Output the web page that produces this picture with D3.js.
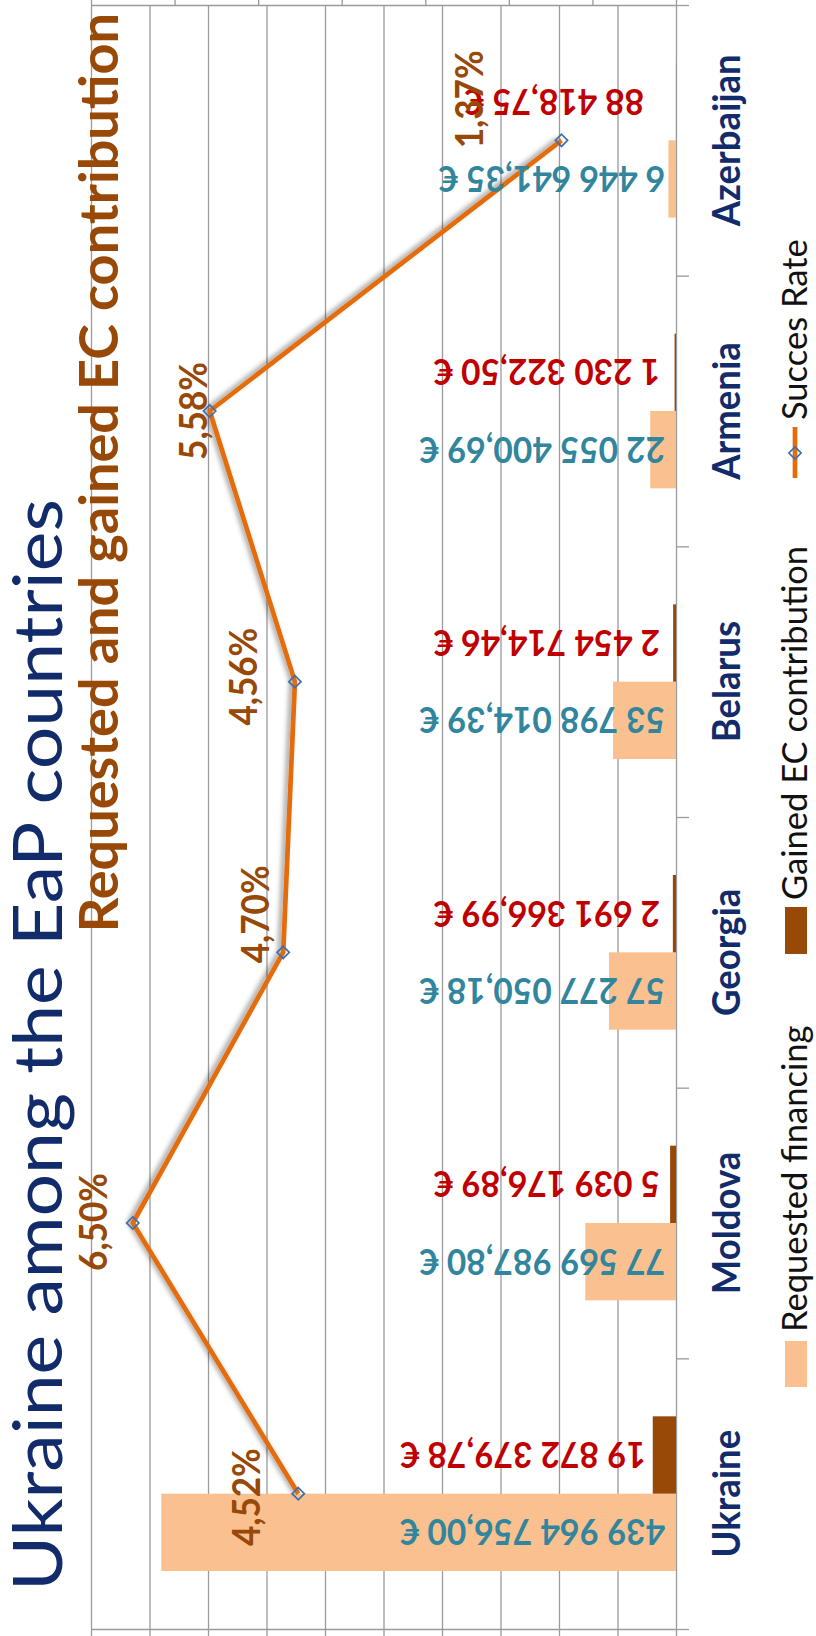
<!DOCTYPE html>
<html><head><meta charset="utf-8">
<script src="https://cdn.jsdelivr.net/npm/d3@7"></script>
<style>html,body{margin:0;padding:0;background:#fff;} svg{display:block}</style>
</head><body>
<svg id="chart" width="816" height="1636"></svg>
<script>
// ---------------- data ----------------
const categories = ["Ukraine", "Moldova", "Georgia", "Belarus", "Armenia", "Azerbaijan"];
const requestedFinancing = [439964756.00, 77569987.80, 57277050.18, 53798014.39, 22055400.69, 6446641.35];
const gainedContribution = [19872379.78, 5039176.89, 2691366.99, 2454714.46, 1230322.50, 88418.75];
const successRate = [0.0452, 0.0650, 0.0470, 0.0456, 0.0558, 0.0137];
const valueAxisTicks = [0, 50e6, 100e6, 150e6, 200e6, 250e6, 300e6, 350e6, 400e6, 450e6, 500e6];
const rateAxisTicks = [0, 0.01, 0.02, 0.03, 0.04, 0.05, 0.06, 0.07];
const seriesNames = ["Requested financing", "Gained EC contribution", "Succes Rate"];
const titleText = "Ukraine among the EaP countries";
const subtitleText = "Requested and gained EC contribution";

// ---------------- layout ----------------
const plot = {left: 91, right: 676, top: 5, bottom: 1629};
const C = {
  req: "#FAC090", gain: "#984807", line: "#E46C0A", marker: "#3D6FAE",
  teal: "#31859C", red: "#C00000", brown: "#984807", navy: "#112B6B", grid: "#9A9A9A"
};
// manual placement of the success-rate labels (dx, dy from the point)
const rateLabelOffset = [[-38, 3.5], [-26, -1], [-14, -38], [-38, -5], [-3, 0], [-78.5, -41]];

const loc = d3.formatLocale({decimal: ",", thousands: " ", grouping: [3], currency: ["", " €"]});
const fmtEur = loc.format("$,.2f");
const fmtPct = loc.format(".2%");

const svg = d3.select("#chart");
const defs = svg.append("defs");
const f = defs.append("filter").attr("id", "shadow").attr("x", "-20%").attr("y", "-20%").attr("width", "140%").attr("height", "140%");
f.append("feDropShadow").attr("dx", -3).attr("dy", -1).attr("stdDeviation", 2.5)
  .attr("flood-color", "#000").attr("flood-opacity", 0.4);

const x = d3.scaleLinear().domain([0, 500e6]).range([plot.right, plot.left]);
const x2 = d3.scaleLinear().domain([0, 0.07]).range([plot.right, plot.left]);
const y = d3.scaleBand().domain(categories).range([plot.bottom, plot.top]);
const ySub = d3.scaleBand().domain(["gained", "requested"]).range([0, y.bandwidth()]).paddingInner(0).paddingOuter(0.75);
const yc = c => y(c) + y.bandwidth() / 2;
const yIdx = d3.scaleLinear().domain([0, categories.length]).range([plot.bottom, plot.top]);

// gridlines
const grid = svg.append("g").attr("transform", `translate(0,${plot.bottom})`)
  .call(d3.axisBottom(x).tickValues(valueAxisTicks.slice(1)).tickSizeInner(-(plot.bottom - plot.top)).tickSizeOuter(0).tickFormat(""));
grid.select(".domain").remove();
grid.selectAll("line").attr("stroke", C.grid).attr("stroke-width", 1.3);

// bottom value axis (ticks only, no labels)
const bAx = svg.append("g").attr("transform", `translate(0,${plot.bottom})`)
  .call(d3.axisBottom(x).tickValues(valueAxisTicks).tickSizeInner(10).tickSizeOuter(0).tickFormat(""));
bAx.selectAll("line,path").attr("stroke", C.grid).attr("stroke-width", 1.3);

// top secondary axis
const tAx = svg.append("g").attr("transform", `translate(0,${plot.top})`)
  .call(d3.axisTop(x2).tickValues(rateAxisTicks).tickSizeInner(6).tickSizeOuter(0).tickFormat(""));
tAx.selectAll("line,path").attr("stroke", C.grid).attr("stroke-width", 1.3);

// category axis (right)
const cAx = svg.append("g").attr("transform", `translate(${plot.right},0)`)
  .call(d3.axisRight(yIdx).tickValues(d3.range(categories.length + 1)).tickSizeInner(13).tickSizeOuter(0).tickFormat(""));
cAx.selectAll("line,path").attr("stroke", C.grid).attr("stroke-width", 1.3);

// bars
const rows = categories.map((c, i) => ({c, i, req: requestedFinancing[i], gain: gainedContribution[i], rate: successRate[i]}));
svg.append("g").selectAll("rect").data(rows).join("rect")
  .attr("x", d => x(d.req)).attr("width", d => x(0) - x(d.req))
  .attr("y", d => y(d.c) + ySub("requested")).attr("height", ySub.bandwidth())
  .attr("fill", C.req);
svg.append("g").selectAll("rect").data(rows).join("rect")
  .attr("x", d => x(d.gain)).attr("width", d => x(0) - x(d.gain))
  .attr("y", d => y(d.c) + ySub("gained")).attr("height", ySub.bandwidth())
  .attr("fill", C.gain);

// line
const line = d3.line().x(d => x2(d.rate)).y(d => yc(d.c));
svg.append("path").datum(rows).attr("d", line).attr("fill", "none")
  .attr("stroke", C.line).attr("stroke-width", 4.7).attr("stroke-linejoin", "round")
  .attr("filter", "url(#shadow)");
const diamond = d3.symbol().type(d3.symbolDiamond2).size(95);
svg.append("g").selectAll("path").data(rows).join("path")
  .attr("d", diamond).attr("transform", d => `translate(${x2(d.rate)},${yc(d.c)})`)
  .attr("fill", "none").attr("stroke", C.marker).attr("stroke-width", 1.7);

// value labels (upside down)
const valFont = 36, valK = 0.93;
function valueLabels(key, sub, color, maxX) {
  svg.append("g").selectAll("text").data(rows).join("text")
    .attr("transform", d => {
      let ax = key === "gain" ? Math.min(x(d[key]) - 7, maxX) : maxX;
      if (key === "gain" && d.c === "Azerbaijan") ax -= 16;
      const cy = y(d.c) + ySub(sub) + ySub.bandwidth() / 2;
      return `translate(${ax},${cy}) rotate(180) scale(${valK},1)`;
    })
    .attr("dy", "0.36em").attr("text-anchor", "start")
    .attr("font-family", "Lato").attr("font-weight", "bold").attr("font-size", valFont)
    .attr("fill", color).text(d => fmtEur(d[key]));
}
valueLabels("req", "requested", C.teal, 665);
valueLabels("gain", "gained", C.red, 660);

// rate labels
svg.append("g").selectAll("text").data(rows).join("text")
  .attr("transform", d => `translate(${x2(d.rate) + rateLabelOffset[d.i][0]},${yc(d.c) + rateLabelOffset[d.i][1]}) rotate(-90) scale(0.93,1)`)
  .attr("text-anchor", "middle")
  .attr("font-family", "Lato").attr("font-weight", "bold").attr("font-size", 37.7)
  .attr("fill", C.brown).text(d => fmtPct(d.rate));

// category labels
svg.append("g").selectAll("text").data(rows).join("text")
  .attr("transform", d => `translate(740,${yc(d.c)}) rotate(-90) scale(0.97,1)`)
  .attr("text-anchor", "middle")
  .attr("font-family", "Lato").attr("font-weight", "bold").attr("font-size", 37.7)
  .attr("fill", C.navy).text(d => d.c);

// title & subtitle
svg.append("text").attr("transform", "translate(62,1591) rotate(-90)")
  .attr("text-anchor", "start").attr("font-family", "Lato").attr("font-size", 68)
  .attr("textLength", 1092).attr("lengthAdjust", "spacingAndGlyphs")
  .attr("fill", C.navy).text(titleText);
svg.append("text").attr("transform", "translate(118,13) rotate(-90)")
  .attr("text-anchor", "end").attr("font-family", "Lato").attr("font-weight", "bold").attr("font-size", 54)
  .attr("fill", C.brown).text(subtitleText);

// legend
const lg = svg.append("g");
lg.append("rect").attr("x", 785).attr("y", 1341).attr("width", 22).attr("height", 46).attr("fill", C.req);
lg.append("rect").attr("x", 785).attr("y", 907).attr("width", 22).attr("height", 47).attr("fill", C.gain);
lg.append("line").attr("x1", 795).attr("x2", 795).attr("y1", 427).attr("y2", 478).attr("stroke", C.line).attr("stroke-width", 4.7);
lg.append("path").attr("d", diamond).attr("transform", "translate(795,453)").attr("fill", "none").attr("stroke", C.marker).attr("stroke-width", 1.7);
const legendStarts = [1332, 900, 420];
seriesNames.forEach((s, i) => {
  lg.append("text").attr("transform", `translate(807,${legendStarts[i]}) rotate(-90)`)
    .attr("font-family", "Lato").attr("font-size", 34.5).attr("fill", "#111").text(s);
});
</script>
</body></html>
